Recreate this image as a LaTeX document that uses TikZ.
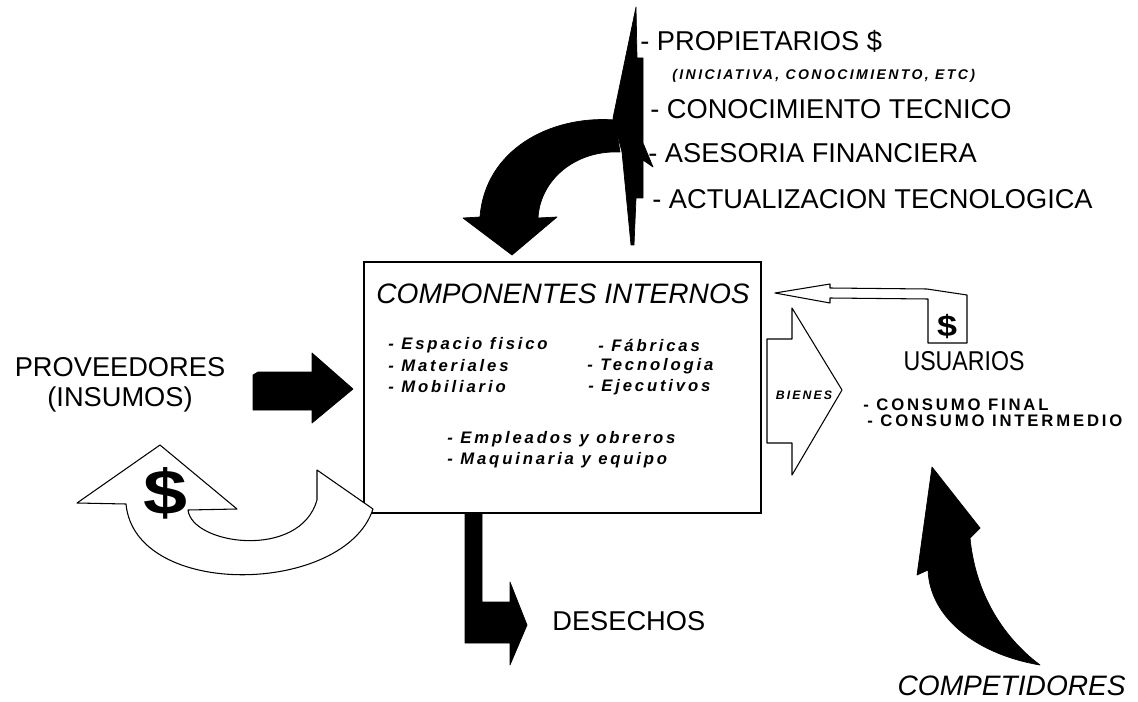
\documentclass[tikz,border=0pt]{standalone}
\usepackage{fontspec}
\setmainfont{Liberation Sans}
\newfontfamily\spaced[LetterSpace=17]{Liberation Sans}
\tikzset{
  blackarrow/.style={fill=black, draw=black, line join=round},
  whitearrow/.style={fill=white, draw=black, line width=0.6pt, line join=round},
  caja/.style={draw, line width=0.8pt, minimum width=7.94cm, minimum height=5.02cm, inner sep=0pt},
  bigtext/.style={font=\fontsize{15.5}{18}\selectfont, inner sep=0pt},
  titletext/.style={font=\fontsize{16}{19}\selectfont\itshape, inner sep=0pt},
  listtext/.style={font=\spaced\fontsize{9.5}{11}\selectfont\bfseries\itshape, anchor=west, inner sep=0pt},
  capstext/.style={font=\spaced\fontsize{9.5}{11}\selectfont\bfseries, anchor=west, inner sep=0pt}
}
\begin{document}
\begin{tikzpicture}[x=0.02cm, y=-0.02cm]
\fill[white] (0,0) rectangle (1138,702);
\useasboundingbox (0,0) rectangle (1138,702);
\node[caja] (comp) at (562.5,387.5) {};
\node[titletext] (titulo) at (563,294) {COMPONENTES INTERNOS};
\node[listtext] (esp) at (388,345) {- Espacio fisico};
\node[listtext] (mat) at (388,366) {- Materiales};
\node[listtext] (mob) at (388,387) {- Mobiliario};
\node[listtext] (fab) at (598,345) {- Fábricas};
\node[listtext] (tec) at (587,366) {- Tecnologia};
\node[listtext] (eje) at (588,387) {- Ejecutivos};
\node[listtext] (emp) at (447,439) {- Empleados y obreros};
\node[listtext] (maq) at (447,460) {- Maquinaria y equipo};
\draw[blackarrow] (636,7) -- (637,58) -- (643,58) -- (643,143) -- (653,167) -- (643,160) -- (643,198) -- (636,198) -- (634,245) -- (631,245) -- (622,152) -- (613,118) -- cycle;
\draw[blackarrow] (615,120) .. controls (550,115) and (485,150) .. (480,217) -- (463,218) -- (512,255) -- (557,217) -- (538,218) .. controls (540,180) and (575,150) .. (620,152) -- cycle;
\node[bigtext, anchor=west] (prop) at (640,41) {- PROPIETARIOS \$};
\node[font=\spaced\fontsize{8}{10}\selectfont\bfseries\itshape, anchor=west, inner sep=0pt] (inic) at (672,76) {(INICIATIVA, CONOCIMIENTO, ETC)};
\node[bigtext, anchor=west] (cono) at (650,109) {- CONOCIMIENTO TECNICO};
\node[bigtext, anchor=west] (ases) at (648,153) {- ASESORIA FINANCIERA};
\node[bigtext, anchor=west] (actu) at (652,199) {- ACTUALIZACION TECNOLOGICA};
\node[bigtext] (prov) at (120,367) {PROVEEDORES};
\node[bigtext] (insu) at (120,399) {(INSUMOS)};
\draw[blackarrow] (253,375) -- (258,372) -- (312,372) -- (312,353) -- (353,389) -- (312,423) -- (312,410) -- (253,410) -- cycle;
\draw[whitearrow] (160,445) -- (237,509) -- (188,510) .. controls (192,545) and (300,560) .. (317,500) -- (317,470) -- (373,509) .. controls (345,595) and (135,600) .. (126,504) -- (77,503) -- cycle;
\node[font=\fontsize{36}{36}\selectfont\bfseries, inner sep=0pt] (pesos) at (165,493) {\scalebox{1.25}[1]{\$}};
\draw[blackarrow] (465,513) -- (482,513) -- (482,602) -- (510,602) -- (510,582) -- (527,625) -- (510,665) -- (510,643) -- (465,643) -- cycle;
\node[bigtext, anchor=west] (dese) at (552,621) {DESECHOS};
\draw[whitearrow] (767,339) -- (792,339) -- (792,308) -- (842,390) -- (792,475) -- (792,443) -- (767,443) -- cycle;
\node[font=\spaced\fontsize{7}{8}\selectfont\bfseries\itshape, inner sep=0pt] (bien) at (804,395) {BIENES};
\draw[whitearrow] (775,293) -- (830,284) -- (830,288) -- (927,289) -- (967,295) -- (967,343) -- (928,343) -- (928,299) -- (830,298) -- (830,303) -- cycle;
\node[font=\fontsize{17}{17}\selectfont\bfseries, inner sep=0pt] (pago) at (947,327) {\scalebox{1.2}[1]{\$}};
\node[bigtext] (usua) at (964,361) {\scalebox{0.85}[1]{USUARIOS}};
\node[capstext] (final) at (863,405) {- CONSUMO FINAL};
\node[capstext] (inter) at (867,421) {- CONSUMO INTERMEDIO};
\draw[blackarrow] (932,467) -- (980,528) -- (970,538) .. controls (975,590) and (1000,635) .. (1040,665) .. controls (980,655) and (930,620) .. (928,570) -- (917,575) -- cycle;
\node[font=\fontsize{16}{19}\selectfont\itshape, anchor=east, inner sep=0pt] (comt) at (1126,686) {COMPETIDORES};
\end{tikzpicture}
\end{document}
